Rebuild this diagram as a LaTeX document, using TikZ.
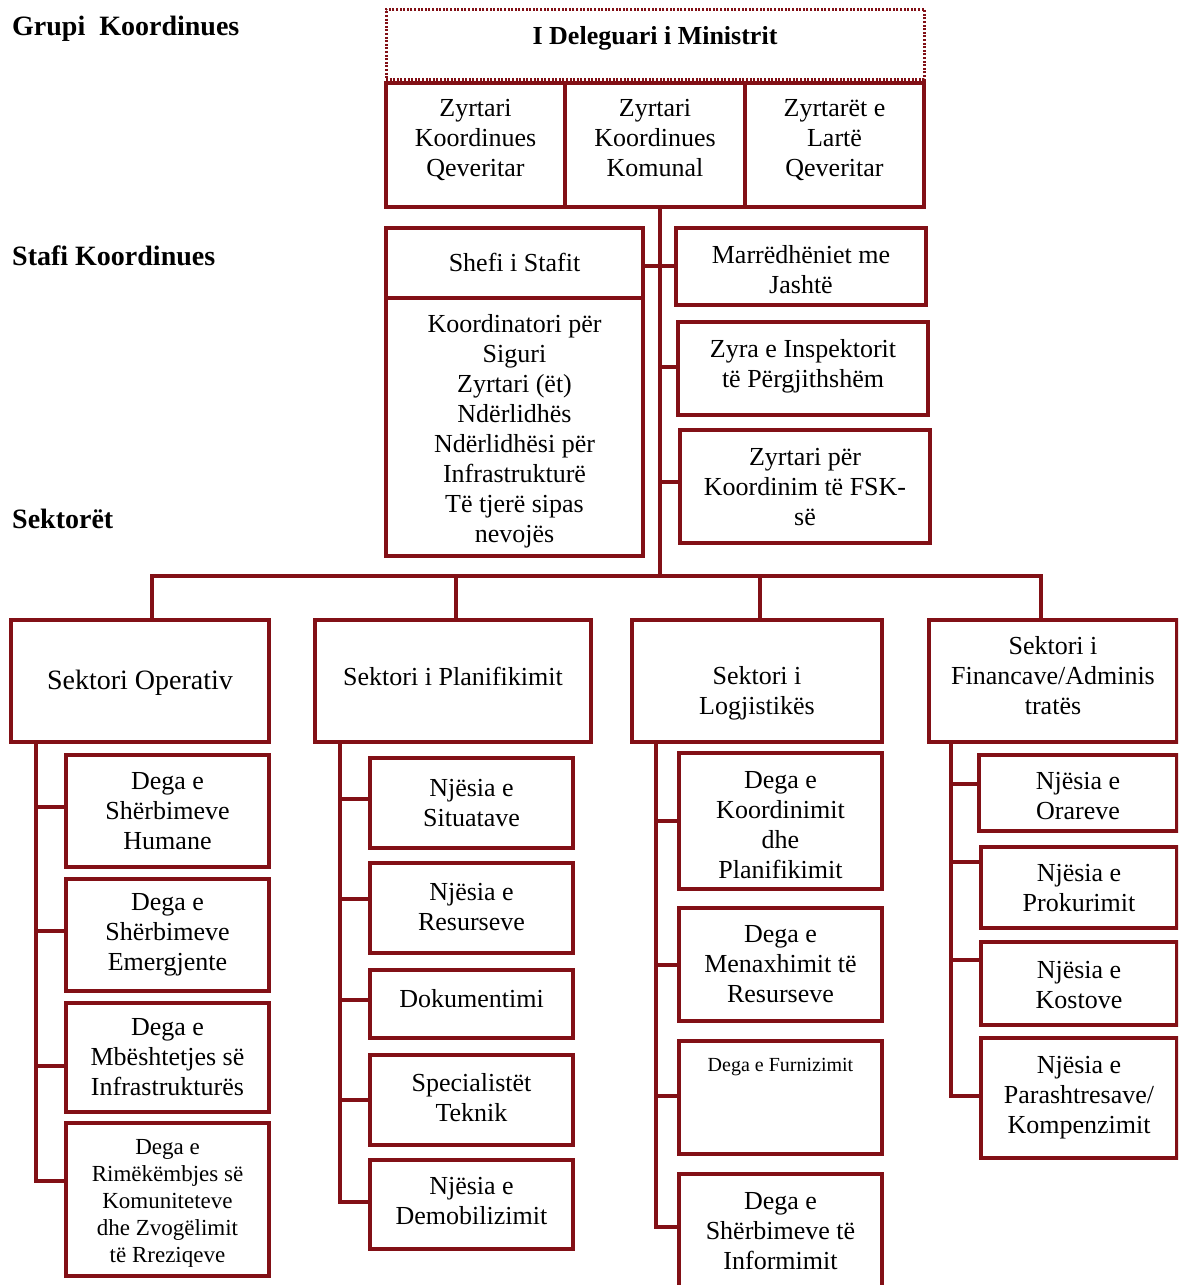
\documentclass[tikz,border=0pt]{standalone}
\usepackage{fontspec}
\setmainfont{Liberation Serif}
\definecolor{dred}{RGB}{130,16,22}
\tikzset{
  box/.style={draw=dred, line width=3.2pt, rectangle, inner sep=0pt, fill=white},
  txt/.style={align=center, inner sep=0pt, font=\fontsize{26}{30}\selectfont},
  dotbox/.style={draw=dred, line width=3pt, dash pattern=on 2pt off 1.6pt, rectangle, inner sep=0pt},
  conn/.style={draw=dred, line width=3.2pt},
  head/.style={font=\fontsize{28}{32}\selectfont\bfseries, anchor=base west, inner sep=0pt},
  small/.style={font=\fontsize{23}{27}\selectfont},
  big/.style={font=\fontsize{28}{32}\selectfont},
}
% \bx[text options]{x1}{y1}{x2}{y2}{name}{dy}{text}
\newcommand\bx[7][]{%
  \node[box,minimum width={#4pt-#2pt},minimum height={#5pt-#3pt}] (#6) at ({(#2+#4)/2},{(#3+#5)/2}) {};
  \node[txt,#1] (#6t) at ({(#2+#4)/2},{(#3+#5)/2+#7})}
\begin{document}
\begin{tikzpicture}[x=1pt,y=-1pt]
\useasboundingbox (0,0) rectangle (1178,1285);
\clip (0,0) rectangle (1178,1285);

% headings
\node[head] (h1) at (12,35) {Grupi\ \ Koordinues};
\node[head] (h2) at (12,265) {Stafi Koordinues};
\node[head] (h3) at (12,528) {Sektorët};

% top group
\node[dotbox, minimum width=538pt, minimum height=70pt] (del) at (655,44) {};
\node[font=\fontsize{26}{30}\selectfont\bfseries, inner sep=0pt] (deltxt) at (655,38) {I Deleguari i Ministrit};
\bx{386}{83}{565}{207}{z1}{-5} {Zyrtari\\Koordinues\\Qeveritar};
\bx{565}{83}{745}{207}{z2}{-7} {Zyrtari\\Koordinues\\Komunal};
\bx{745}{83}{924}{207}{z3}{-5} {Zyrtarët e\\Lartë\\Qeveritar};

% staff
\bx{386}{228}{643}{298}{shefi}{-1} {Shefi i Stafit};
\bx{386}{298}{643}{556}{koord}{4} {Koordinatori për\\Siguri\\Zyrtari (ët)\\Ndërlidhës\\Ndërlidhësi për\\Infrastrukturë\\Të tjerë sipas\\nevojës};
\bx{676}{228}{926}{305}{marr}{3} {Marrëdhëniet me\\Jashtë};
\bx{678}{322}{928}{415}{zyra}{-2} {Zyra e Inspektorit\\të Përgjithshëm};
\bx{680}{430}{930}{543}{fsk}{1} {Zyrtari për\\Koordinim të FSK-\\së};

\coordinate (bus) at (660,576);
\draw[conn] (z2.south -| bus) -- (bus);
\draw[conn] (shefi.east |- 0,266) -- (marr.west |- 0,266);
\draw[conn] (bus |- 0,367) -- (zyra.west |- 0,367);
\draw[conn] (bus |- 0,482) -- (fsk.west |- 0,482);

% sectors
\bx[big]{11}{620}{269}{742}{s1}{2} {Sektori Operativ};
\bx{315}{620}{591}{742}{s2}{-5} {Sektori i Planifikimit};
\bx{632}{620}{882}{742}{s3}{12} {Sektori i\\Logjistikës};
\bx{929}{620}{1177}{742}{s4}{-5} {Sektori i\\Financave/Adminis\\tratës};

\draw[conn] (s1.north -| 152,0) |- (bus);
\draw[conn] (s2.north -| 456,0) |- (bus);
\draw[conn] (s3.north -| 760,0) |- (bus);
\draw[conn] (s4.north -| 1041,0) |- (bus);

% Operativ
\bx{66}{755}{269}{867}{c11}{0} {Dega e\\Shërbimeve\\Humane};
\bx{66}{879}{269}{991}{c12}{0} {Dega e\\Shërbimeve\\Emergjente};
\bx{66}{1003}{269}{1112}{c13}{0} {Dega e\\Mbështetjes së\\Infrastrukturës};
\bx[small]{66}{1123}{269}{1276}{c14}{4} {Dega e\\Rimëkëmbjes së\\Komuniteteve\\dhe Zvogëlimit\\të Rreziqeve};
\draw[conn] (s1.south -| 36,0) |- (c11.west |- 0,807);
\draw[conn] (s1.south -| 36,0) |- (c12.west |- 0,931);
\draw[conn] (s1.south -| 36,0) |- (c13.west |- 0,1066);
\draw[conn] (s1.south -| 36,0) |- (c14.west |- 0,1181);

% Planifikimit
\bx{370}{758}{573}{848}{c21}{0} {Njësia e\\Situatave};
\bx{370}{863}{573}{953}{c22}{-1} {Njësia e\\Resurseve};
\bx{370}{970}{573}{1038}{c23}{-5} {Dokumentimi};
\bx{370}{1055}{573}{1145}{c24}{-2} {Specialistët\\Teknik};
\bx{370}{1160}{573}{1249}{c25}{-3} {Njësia e\\Demobilizimit};
\draw[conn] (s2.south -| 340,0) |- (c21.west |- 0,799);
\draw[conn] (s2.south -| 340,0) |- (c22.west |- 0,899);
\draw[conn] (s2.south -| 340,0) |- (c23.west |- 0,1000);
\draw[conn] (s2.south -| 340,0) |- (c24.west |- 0,1100);
\draw[conn] (s2.south -| 340,0) |- (c25.west |- 0,1202);

% Logjistikes
\bx{679}{753}{882}{889}{c31}{4} {Dega e\\Koordinimit\\dhe\\Planifikimit};
\bx{679}{908}{882}{1021}{c32}{0} {Dega e\\Menaxhimit të\\Resurseve};
\bx[font=\fontsize{20}{24}\selectfont, anchor=base]{679}{1041}{882}{1154}{c33}{-26} {Dega e Furnizimit};
\bx{679}{1174}{882}{1292}{c34}{-2} {Dega e\\Shërbimeve të\\Informimit};
\draw[conn] (s3.south -| 656,0) |- (c31.west |- 0,821);
\draw[conn] (s3.south -| 656,0) |- (c32.west |- 0,965);
\draw[conn] (s3.south -| 656,0) |- (c33.west |- 0,1096);
\draw[conn] (s3.south -| 656,0) |- (c34.west |- 0,1227);

% Financave
\bx{979}{755}{1177}{831}{c41}{3} {Njësia e\\Orareve};
\bx{981}{847}{1177}{928}{c42}{1} {Njësia e\\Prokurimit};
\bx{981}{942}{1177}{1025}{c43}{2} {Njësia e\\Kostove};
\bx{981}{1038}{1177}{1158}{c44}{0} {Njësia e\\Parashtresave/\\Kompenzimit};
\draw[conn] (s4.south -| 951,0) |- (c41.west |- 0,784);
\draw[conn] (s4.south -| 951,0) |- (c42.west |- 0,862);
\draw[conn] (s4.south -| 951,0) |- (c43.west |- 0,960);
\draw[conn] (s4.south -| 951,0) |- (c44.west |- 0,1096);
\end{tikzpicture}
\end{document}
